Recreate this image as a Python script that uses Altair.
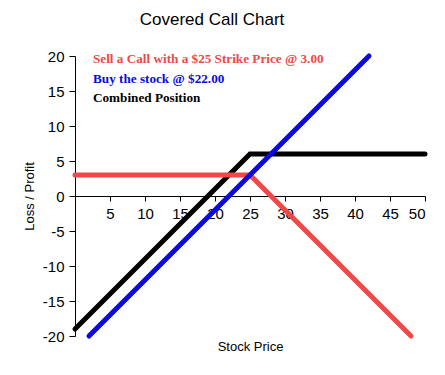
import altair as alt
import pandas as pd

# Data
call_x = [0, 25, 48]
call_y = [3, 3, -20]
stock_x = [2, 42]
stock_y = [-20, 20]
comb_x = [0, 25, 50]
comb_y = [-19, 6, 6]

series_names = ["Combined Position", "Sell a Call", "Buy the stock"]
series_colors = ["#000000", "#f04848", "#0a0adc"]

legend_texts = [
    "Sell a Call with a $25 Strike Price @ 3.00",
    "Buy the stock @ $22.00",
    "Combined Position",
]
legend_colors = ["#f04848", "#0a0adc", "#000000"]

x_ticks = [5, 10, 15, 20, 25, 30, 35, 40, 45, 50]
y_ticks = [-20, -15, -10, -5, 0, 5, 10, 15, 20]

rows = []
for i, (xs, ys) in enumerate([(comb_x, comb_y), (call_x, call_y), (stock_x, stock_y)]):
    for j, (a, b) in enumerate(zip(xs, ys)):
        rows.append({"series": series_names[i], "order": j, "x": a, "y": b, "s": i})
df = pd.DataFrame(rows)

font = "Liberation Sans"

x_enc = alt.X(
    "x:Q",
    scale=alt.Scale(domain=[0, 50], nice=False, zero=False),
    axis=alt.Axis(
        values=x_ticks, title="Stock Price", offset=-140, grid=False,
        domainColor="black", tickColor="black", tickSize=5,
        labelFont=font, labelFontSize=15, labelColor="black", labelPadding=5,
        titleFont=font, titleFontSize=13, titleFontWeight="normal",
        titleColor="black", titleY=150, titleBaseline="middle",
    ),
)
y_enc = alt.Y(
    "y:Q",
    scale=alt.Scale(domain=[-20, 20], nice=False),
    axis=alt.Axis(
        values=y_ticks, title="Loss / Profit", grid=False,
        domainColor="black", tickColor="black", tickSize=6,
        labelFont=font, labelFontSize=15, labelColor="black", labelPadding=5,
        labelExpr="'' + datum.value",
        titleFont=font, titleFontSize=13, titleFontWeight="normal",
        titleColor="black", titlePadding=6,
    ),
)

lines = alt.Chart(df).mark_line(strokeWidth=5, strokeCap="round", strokeJoin="miter").encode(
    x=x_enc,
    y=y_enc,
    color=alt.Color("series:N", scale=alt.Scale(domain=series_names, range=series_colors), legend=None),
    detail="s:N",
    order="order:Q",
)

leg_df = pd.DataFrame({"t": legend_texts, "c": legend_colors, "i": [0, 1, 2]})
legend = alt.Chart(leg_df).mark_text(
    align="left", baseline="middle", font="Liberation Serif", fontSize=13.2, fontWeight="bold"
).encode(
    x=alt.value(18),
    y=alt.Y("i:Q", scale=alt.Scale(domain=[0, 2], range=[3, 42]), axis=None),
    text="t:N",
    color=alt.Color("c:N", scale=None),
)

chart = alt.layer(lines, legend).resolve_scale(y="independent").properties(
    width=350,
    height=280,
    autosize=alt.AutoSizeParams(type="none"),
    padding={"left": 67, "top": 48, "right": 5, "bottom": 24},
    title=alt.TitleParams(
        "Covered Call Chart", font=font, fontSize=17, fontWeight="normal",
        color="black", offset=17, dx=-38, anchor="middle",
    ),
).configure_view(stroke=None)

chart.save("out.html", embed_options={"renderer": "svg", "actions": False})
